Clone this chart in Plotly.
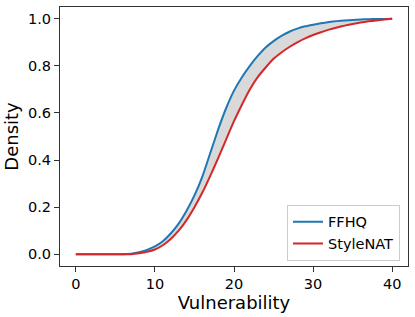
import plotly.graph_objects as go

vulnerability = list(range(0, 41))
ffhq = [0, 0, 0, 0, 0, 0, 0, 0.002, 0.008, 0.018, 0.033, 0.055, 0.088, 0.13, 0.185,
        0.25, 0.33, 0.43, 0.53, 0.62, 0.695, 0.752, 0.80, 0.842, 0.878, 0.905, 0.927,
        0.945, 0.958, 0.968, 0.975, 0.981, 0.986, 0.99, 0.993, 0.995, 0.997, 0.998,
        0.999, 0.9995, 1.0]
stylenat = [0, 0, 0, 0, 0, 0, 0, 0, 0.004, 0.01, 0.02, 0.038, 0.065, 0.10, 0.145,
            0.2, 0.262, 0.333, 0.408, 0.487, 0.565, 0.635, 0.70, 0.752, 0.793, 0.83,
            0.857, 0.88, 0.9, 0.917, 0.931, 0.943, 0.954, 0.963, 0.971, 0.978,
            0.984, 0.989, 0.993, 0.997, 1.0]

BLUE = "#1f77b4"
RED = "#d62728"

line_shape = dict(shape="spline", smoothing=0.5)

fig = go.Figure()
fig.add_trace(go.Scatter(x=vulnerability, y=ffhq, mode="lines",
                         line=dict(width=0, **line_shape),
                         showlegend=False, hoverinfo="skip"))
fig.add_trace(go.Scatter(x=vulnerability, y=stylenat, mode="lines",
                         line=dict(width=0, **line_shape),
                         fill="tonexty", fillcolor="rgba(128,128,128,0.3)",
                         showlegend=False, hoverinfo="skip"))
fig.add_trace(go.Scatter(x=vulnerability, y=ffhq, mode="lines", name="FFHQ",
                         line=dict(color=BLUE, width=2, **line_shape)))
fig.add_trace(go.Scatter(x=vulnerability, y=stylenat, mode="lines", name="StyleNAT",
                         line=dict(color=RED, width=2, **line_shape)))

axis_common = dict(showgrid=False, zeroline=False, showline=True, mirror=True,
                   linecolor="#333333", linewidth=1, ticks="outside", ticklen=5,
                   tickcolor="#333333", tickfont=dict(size=14.5, color="black"),
                   automargin=False)

fig.update_layout(
    width=415, height=317,
    margin=dict(l=60, r=7, t=7, b=51),
    paper_bgcolor="white", plot_bgcolor="white",
    font=dict(family="DejaVu Sans", color="black"),
    xaxis=dict(range=[-2, 42], tickvals=[0, 10, 20, 30, 40],
               title=dict(text="Vulnerability", font=dict(size=18), standoff=4),
               **axis_common),
    yaxis=dict(range=[-0.05, 1.05], tickvals=[0, 0.2, 0.4, 0.6, 0.8, 1.0],
               tickformat=".1f",
               title=dict(text="Density", font=dict(size=18), standoff=4),
               **axis_common),
    legend=dict(x=0.977, xanchor="right", y=0.02, yanchor="bottom",
                bordercolor="#cccccc", borderwidth=1, bgcolor="rgba(255,255,255,0.8)",
                font=dict(size=14.5), tracegroupgap=0, traceorder="normal"),
)

fig.write_html("out.html", config={"displayModeBar": False},
               post_script="document.body.style.margin='0';document.body.style.padding='0';")
